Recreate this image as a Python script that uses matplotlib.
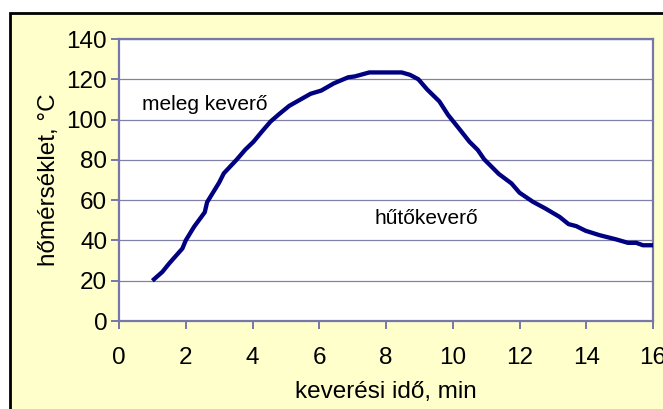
import matplotlib.pyplot as plt
from matplotlib.patches import Rectangle

# keverési idő (min) és hőmérséklet (°C)
ido = [1.0, 1.3, 1.5, 1.9, 2.0, 2.25, 2.57, 2.64, 3.0, 3.14, 3.52, 3.78, 4.03,
       4.28, 4.54, 4.79, 5.1, 5.42, 5.74, 6.06, 6.44, 6.87, 7.06, 7.5, 8.47,
       8.72, 8.97, 9.23, 9.6, 9.86, 10.18, 10.5, 10.75, 10.94, 11.38, 11.76,
       12.0, 12.4, 12.77, 13.2, 13.47, 13.7, 13.98, 14.4, 14.9, 15.25, 15.5,
       15.7, 16.0]
homerseklet = [20, 24.4, 28.5, 36, 40, 46.8, 54, 59, 68.7, 73.3, 80, 85, 89,
               94, 99, 102.6, 106.8, 109.8, 112.8, 114.4, 118, 121, 121.4,
               123.4, 123.4, 122.2, 120, 115, 109, 102.3, 95.7, 89, 84.9, 80.3,
               73, 68.3, 63.7, 59.2, 55.9, 51.7, 48.1, 47.1, 44.8, 42.6, 40.5,
               38.8, 38.8, 37.6, 37.6]
x_ticks = [0, 2, 4, 6, 8, 10, 12, 14, 16]
y_ticks = [0, 20, 40, 60, 80, 100, 120, 140]

plt.rcParams['font.family'] = ['Liberation Sans', 'DejaVu Sans']

W, H = 663, 409
fig = plt.figure(figsize=(W / 100, H / 100), dpi=100, facecolor='white')

# sárga háttér fekete kerettel
fig.add_artist(Rectangle((10 / W, -0.1), 1.2, (H - 13) / H + 0.1,
                         transform=fig.transFigure, facecolor='#FFFFCC',
                         edgecolor='black', linewidth=2, zorder=0))

ax = fig.add_axes([119 / W, (H - 321) / H, (653 - 119) / W, (321 - 39) / H])
ax.set_facecolor('white')

grid_col = '#8080A8'
for y in y_ticks[1:]:
    ax.axhline(y, color=grid_col, linewidth=0.9, zorder=1)

ax.plot(ido, homerseklet, color='#000080', linewidth=3.1, zorder=3,
        solid_capstyle='butt')

ax.set_xlim(0, 16)
ax.set_ylim(0, 140)
ax.set_xticks(x_ticks)
ax.set_yticks(y_ticks)
for s in ax.spines.values():
    s.set_color('#7878A8')
    s.set_linewidth(1.6)
ax.tick_params(axis='both', direction='out', length=5.5, width=1.4,
               color='#7878A8', labelsize=17.5)
ax.tick_params(axis='x', pad=13)
ax.tick_params(axis='y', pad=3)

ax.set_xlabel('keverési idő, min', fontsize=17.5, labelpad=9)
ax.set_ylabel('hőmérséklet, °C', fontsize=17.5, labelpad=5)

ax.text(0.69, 104.7, 'meleg keverő', fontsize=15, va='baseline', ha='left')
ax.text(7.67, 48.2, 'hűtőkeverő', fontsize=15, va='baseline', ha='left')

fig.savefig('out.png', dpi=100, facecolor='white')
